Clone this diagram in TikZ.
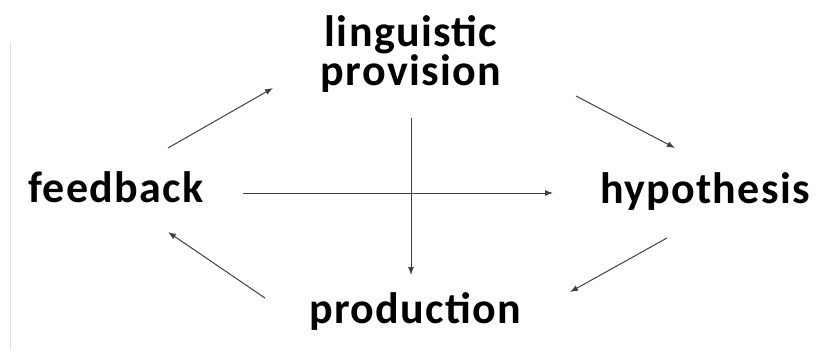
\documentclass[tikz,border=0pt]{standalone}
\usepackage{fontspec}
\setmainfont{Carlito}
\newfontfamily\lblfont[LetterSpace=3]{Carlito}
\usepackage{tikz}
\usetikzlibrary{arrows.meta}

\begin{document}
\begin{tikzpicture}[x=1pt,y=-1pt,
  lbl/.style={inner sep=0pt,font=\lblfont\fontsize{44}{39}\selectfont\bfseries},
  arr/.style={-{Latex[length=8pt,width=6pt]},line width=1pt,black!75}]
\useasboundingbox (0,0) rectangle (820,353);
\draw[black!12,line width=1pt] (10,42)--(10,350);
\node[lbl,anchor=base] (fb) at (116,202) {feedback};
\node[lbl,anchor=north,align=center] (ling) at (411,15) {linguistic\\provision};
\node[lbl,anchor=base] (hyp) at (705,203) {hypothesis};
\node[lbl,anchor=base] (prod) at (415,323) {production};
\draw[arr] ([shift={(52,-54)}]fb.base)--([shift={(-138,73)}]ling.north);
\draw[arr] ([shift={(165,81)}]ling.north)--([shift={(-30,-55)}]hyp.base);
\draw[arr] ([shift={(-38,35)}]hyp.base)--([shift={(155,-31)}]prod.base);
\draw[arr] ([shift={(-150,-25)}]prod.base)--([shift={(52,30)}]fb.base);
\draw[arr] ([shift={(127,-9)}]fb.base)--([shift={(-152,-10)}]hyp.base);
\draw[arr] ([shift={(0,103)}]ling.north)--([shift={(-4,-48)}]prod.base);
\end{tikzpicture}
\end{document}
